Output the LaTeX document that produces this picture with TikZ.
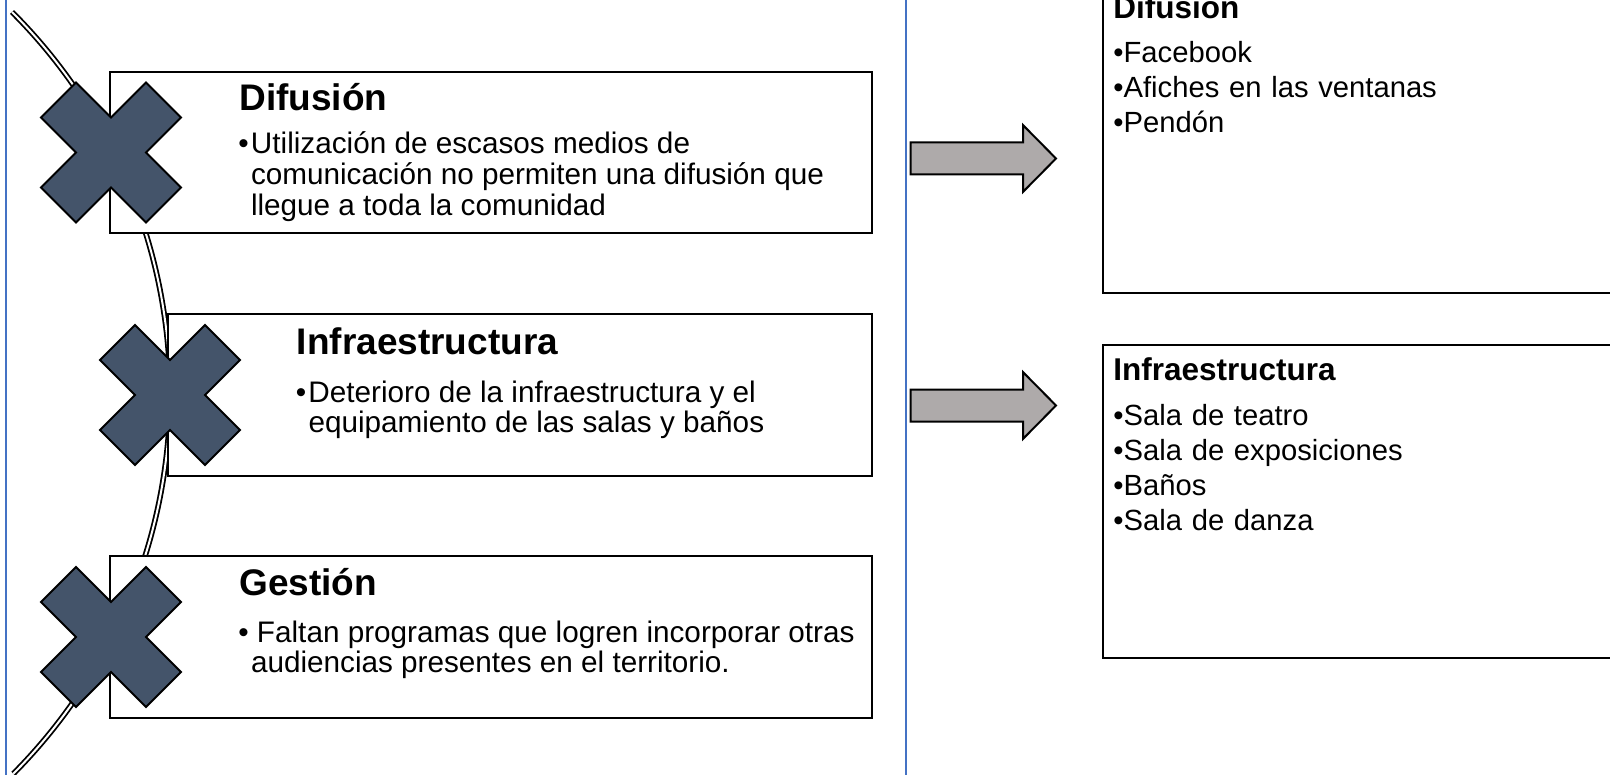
\documentclass[tikz,border=0pt]{standalone}
\usepackage{fontspec}
\setmainfont{Liberation Sans}
\definecolor{xfill}{HTML}{44546A}
\definecolor{arrowfill}{HTML}{AEAAAA}
\definecolor{frameblue}{HTML}{4472C4}
\newcommand{\bulcell}{\makebox[6.3pt][l]{•}}
\tikzset{
  pics/xcross/.style={code={
    \draw[xmark] (0,-35)--(35,-70)--(70,-35)--(35,0)--(70,35)--(35,70)--(0,35)
      --(-35,70)--(-70,35)--(-35,0)--(-70,-35)--(-35,-70)--cycle;}},
  pics/blockarrow/.style={code={
    \draw[bigarrow] (0,-16)--(112.3,-16)--(112.3,-33.4)--(145.3,0)--(112.3,33.4)
      --(112.3,16)--(0,16)--cycle;}},
}
\begin{document}
\begin{tikzpicture}[x=0.5pt,y=-0.5pt,
  box/.style={draw=black, line width=1.05pt, fill=white, rectangle, inner sep=0pt},
  xmark/.style={draw=black, line width=1pt, fill=xfill, line join=miter},
  bigarrow/.style={draw=black, line width=1pt, fill=arrowfill, line join=miter},
  curve/.style={draw=black, line width=0.9pt, double=white, double distance=1.0pt},
  frame/.style={draw=frameblue, line width=0.65pt},
  ltitle/.style={anchor=base west, inner sep=0pt, font=\fontsize{18.5pt}{20pt}\selectfont\bfseries},
  lbody/.style={anchor=base west, inner sep=0pt, font=\fontsize{14.85pt}{15.1pt}\selectfont},
  rtitle/.style={anchor=base west, inner sep=0pt, font=\fontsize{15.75pt}{18pt}\selectfont\bfseries},
  rbody/.style={anchor=base west, inner sep=0pt, text width=240pt, align=left, font=\fontsize{14.6pt}{17.5pt}\selectfont},
]
\useasboundingbox (0,0) rectangle (1610,775);
\clip (0,0) rectangle (1610,775);
\fill[white] (0,0) rectangle (1610,775);
% frame
\draw[frame] (6,-10) rectangle (906,790);
% curve
\coordinate (ctop) at (12,12);
\draw[curve] (ctop) arc[start angle=-45, end angle=44.8, radius=539.6];
% left boxes
\node[box, minimum width=381pt, minimum height=80.5pt] (b1) at (491,152.5) {};
\node[box, minimum width=352pt, minimum height=81pt] (b2) at (520,395) {};
\node[box, minimum width=381pt, minimum height=81pt] (b3) at (491,637) {};
% crosses
\pic at (111,152.5) {xcross};
\pic at (170,395) {xcross};
\pic at (111,637) {xcross};
% texts left
\node[ltitle] (t1) at (239,111) {Difusión};
\node[lbody] (d1) at (238,154) {\begin{tabular}[t]{@{}l@{}l@{}}\bulcell & Utilización de escasos medios de\\ & comunicación no permiten una difusión que\\ & llegue a toda la comunidad\end{tabular}};
\node[ltitle] (t2) at (296.5,354) {Infraestructura};
\node[lbody] (d2) at (295.5,402) {\begin{tabular}[t]{@{}l@{}l@{}}\bulcell & Deterioro de la infraestructura y el\\ & equipamiento de las salas y baños\end{tabular}};
\node[ltitle] (t3) at (239,595) {Gestión};
\node[lbody] (d3) at (238,642) {\begin{tabular}[t]{@{}l@{}l@{}}\bulcell & \hspace{3pt}Faltan programas que logren incorporar otras\\ & audiencias presentes en el territorio.\end{tabular}};
% arrows
\pic at (910.7,158.5) {blockarrow};
\pic at (910.7,405.5) {blockarrow};
% right boxes
\node[box, minimum width=263.5pt, minimum height=157pt] (r1) at (1366.5,136) {};
\node[box, minimum width=263.5pt, minimum height=156.5pt] (r2) at (1366.5,501.5) {};
\node[rtitle] (rt1) at (1113,18.5) {Difusión};
\node[rbody] (rd1) at (1113,62.5) {•Facebook\\•Afiches en las ventanas\\•Pendón};
\node[rtitle] (rt2) at (1113,380.7) {Infraestructura};
\node[rbody] (rd2) at (1113,425) {•Sala de teatro\\•Sala de exposiciones\\•Baños\\•Sala de danza};
\end{tikzpicture}
\end{document}
